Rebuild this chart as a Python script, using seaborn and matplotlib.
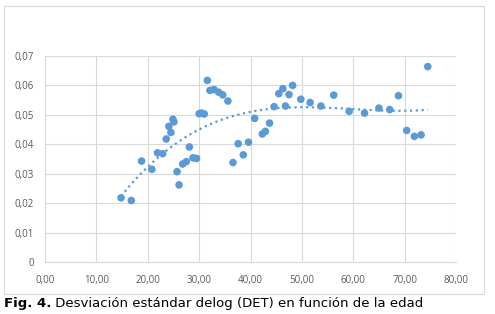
import matplotlib
matplotlib.use("Agg")
import matplotlib.pyplot as plt
from matplotlib.patches import Rectangle
from matplotlib.ticker import FuncFormatter
import seaborn as sns
import pandas as pd

edad = [14.8, 16.8, 18.8, 20.8, 21.9, 22.9, 23.6, 24.5, 24.1, 24.9, 25.1, 25.7, 26.1,
        26.8, 27.5, 28.1, 28.8, 29.5, 30.0, 30.5, 31.0, 31.6, 32.1, 32.9, 33.8, 34.6,
        35.6, 36.6, 37.6, 38.6, 39.6, 40.8, 42.3, 42.9, 43.7, 44.6, 45.5, 46.3, 46.8,
        47.5, 48.2, 49.8, 51.6, 53.7, 56.2, 59.2, 62.2, 65.0, 67.1, 68.8, 70.4, 71.9,
        73.2, 74.5]
det = [0.0218, 0.0209, 0.0343, 0.0315, 0.0371, 0.0368, 0.0418, 0.0440, 0.0461, 0.0485,
       0.0476, 0.0307, 0.0262, 0.0333, 0.0341, 0.0391, 0.0354, 0.0352, 0.0504, 0.0506,
       0.0503, 0.0617, 0.0583, 0.0586, 0.0577, 0.0568, 0.0547, 0.0338, 0.0402, 0.0364,
       0.0407, 0.0488, 0.0435, 0.0444, 0.0472, 0.0528, 0.0572, 0.0589, 0.0530, 0.0569,
       0.0600, 0.0553, 0.0542, 0.0530, 0.0567, 0.0512, 0.0506, 0.0523, 0.0518, 0.0565,
       0.0447, 0.0427, 0.0432, 0.0664]
x_ticks = [0, 10, 20, 30, 40, 50, 60, 70, 80]
y_ticks = [0, 0.01, 0.02, 0.03, 0.04, 0.05, 0.06, 0.07]
caption_bold = "Fig. 4."
caption_text = " Desviación estándar delog (DET) en función de la edad"

df = pd.DataFrame({"edad": edad, "det": det})

sns.set_theme(style="white")
plt.rcParams["font.family"] = ["DejaVu Sans"]

fig = plt.figure(figsize=(4.95, 3.14), dpi=100)
fig.patch.set_facecolor("white")
ax = fig.add_axes([45 / 495, 1 - 262 / 314, (456 - 45) / 495, (262 - 56) / 314])

blue = "#5B9BD5"
sns.regplot(data=df, x="edad", y="det", order=3, ci=None, scatter=False, truncate=True,
            ax=ax, line_kws=dict(color=blue, lw=1.6, linestyle=(0, (1, 1.6))))
sns.scatterplot(data=df, x="edad", y="det", ax=ax, color=blue, s=30,
                edgecolor="none", zorder=3)

ax.set_xlim(0, 80)
ax.set_ylim(0, 0.07)
ax.set_xticks(x_ticks)
ax.set_yticks(y_ticks)
ax.xaxis.set_major_formatter(FuncFormatter(lambda v, p: f"{v:.2f}".replace(".", ",")))
ax.yaxis.set_major_formatter(FuncFormatter(lambda v, p: "0" if v == 0 else f"{v:.2f}".replace(".", ",")))
ax.grid(True, color="#d9d9d9", lw=0.8)
ax.set_axisbelow(True)
for s in ["top", "right", "left"]:
    ax.spines[s].set_visible(False)
ax.spines["bottom"].set_color("#d9d9d9")
ax.spines["bottom"].set_linewidth(0.8)
ax.set_xlabel("")
ax.set_ylabel("")
ax.tick_params(axis="both", length=0, labelsize=7, labelcolor="#595959")
ax.tick_params(axis="x", pad=9)
ax.tick_params(axis="y", pad=8)
for lab in ax.get_xticklabels() + ax.get_yticklabels():
    lab.set_fontfamily("Open Sans")

fig.patches.append(Rectangle((4 / 495, 1 - 294 / 314), 480 / 495, 288 / 314,
                             transform=fig.transFigure, fill=False,
                             edgecolor="#d9d9d9", lw=0.8))

t1 = fig.text(4 / 495, 1 - 303 / 314, caption_bold, fontsize=9.5, fontweight="bold",
              va="center", ha="left", color="black")
fig.canvas.draw()
bb = t1.get_window_extent()
fig.text(bb.x1 / fig.bbox.width, 1 - 303 / 314, caption_text, fontsize=9.5,
         va="center", ha="left", color="black")

fig.savefig("out.png", dpi=100)
